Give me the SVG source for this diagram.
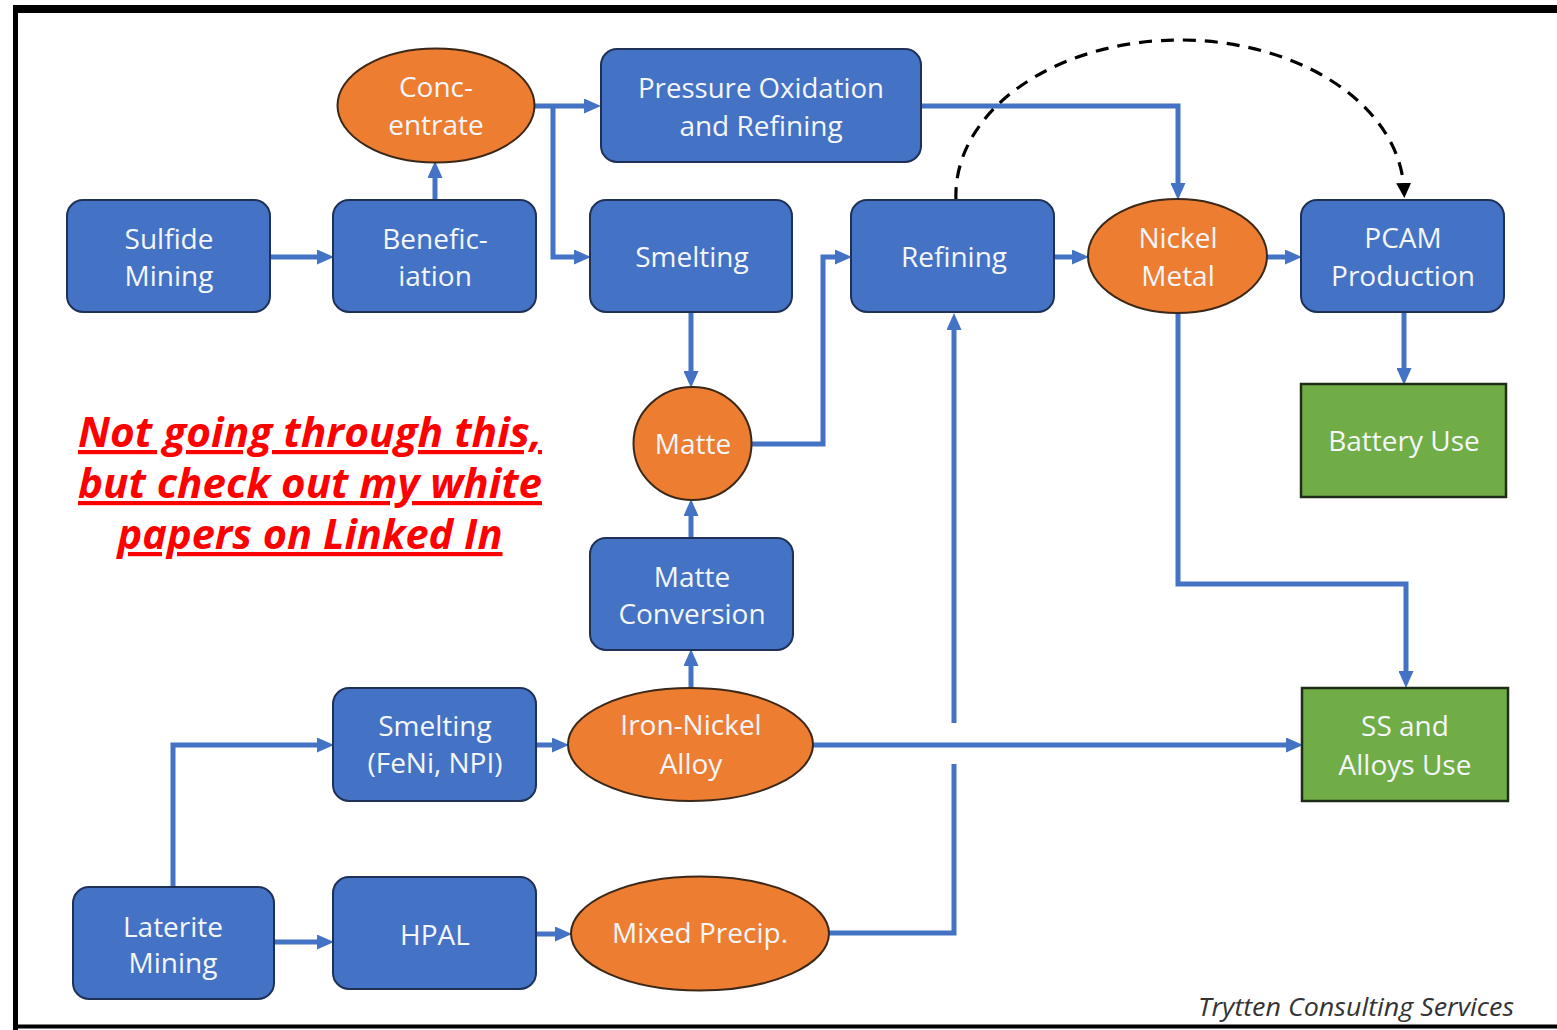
<svg xmlns="http://www.w3.org/2000/svg" width="1557" height="1030" viewBox="0 0 1557 1030">
<defs>
<style>
.box{fill:#4472C4;stroke:#1f3157;stroke-width:2}
.ell{fill:#ED7D31;stroke:#3b2818;stroke-width:2}
.grn{fill:#70AD47;stroke:#1f2c17;stroke-width:2.5}
.lbl{font-family:"Open Sans","Noto Sans","Liberation Sans",sans-serif;font-size:28px;fill:#F4F6FA;text-anchor:middle}
.con{fill:none;stroke:#4472C4;stroke-width:5;marker-end:url(#ah)}
.con2{fill:none;stroke:#4472C4;stroke-width:5}
.dash{fill:none;stroke:#000;stroke-width:3.2;stroke-dasharray:13 9;marker-end:url(#ahk)}
.note{font-family:"Open Sans","Noto Sans","Liberation Sans",sans-serif;font-size:42px;font-weight:bold;font-style:italic;fill:#FF0000;text-anchor:middle;text-decoration:underline}
.foot{font-family:"Open Sans","Noto Sans","Liberation Sans",sans-serif;font-size:26px;font-style:italic;fill:#333;text-anchor:end}
</style>
<marker id="ah" markerUnits="userSpaceOnUse" markerWidth="17" markerHeight="15" refX="8" refY="7.5" orient="auto" viewBox="0 0 17 15">
<path d="M0,0 L17,7.5 L0,15 z" fill="#4472C4"/>
</marker>
<marker id="ahk" markerUnits="userSpaceOnUse" markerWidth="15" markerHeight="15" refX="7" refY="7.5" orient="auto" viewBox="0 0 15 15">
<path d="M0,0 L15,7.5 L0,15 z" fill="#000"/>
</marker>
</defs>
<rect x="0" y="0" width="1557" height="1030" fill="#fff"/>
<g id="frame" stroke="#000" fill="none">
<line x1="13" y1="9" x2="1557" y2="9" stroke-width="8"/>
<line x1="15.5" y1="5" x2="15.5" y2="1030" stroke-width="5"/>
<line x1="13" y1="1026.5" x2="1557" y2="1026.5" stroke-width="4"/>
</g>
<g id="connectors">
<path class="con" d="M270 257 H325"/>
<path class="con" d="M435 200 V170"/>
<path class="con" d="M534 106 H592"/>
<path class="con" d="M553 106 V257 H582"/>
<path class="con" d="M920 106 H1178 V191"/>
<path class="con" d="M691 312 V379"/>
<path class="con" d="M751 444 H823 V257 H843"/>
<path class="con" d="M1054 257 H1080"/>
<path class="con" d="M1267 257 H1293"/>
<path class="con" d="M1404 312 V376"/>
<path class="con" d="M1178 313 V584 H1406 V679"/>
<path class="dash" d="M956 200 A224 155 0 0 1 1404 190"/>
<path class="con" d="M691 538 V508"/>
<path class="con" d="M691 688 V658"/>
<path class="con" d="M536 745 H560"/>
<path class="con" d="M813 745 H1294"/>
<path class="con" d="M173 886 V745 H325"/>
<path class="con" d="M274 942 H325"/>
<path class="con" d="M536 934 H563"/>
<path class="con" d="M829 933 H954 V764 M954 723 V322"/>
</g>
<g id="sulfide-mining">
<rect class="box" x="67" y="200" width="203" height="112" rx="16"/>
<text class="lbl" x="169" y="249">Sulfide</text>
<text class="lbl" x="169" y="286">Mining</text>
</g>
<g id="beneficiation">
<rect class="box" x="333" y="200" width="203" height="112" rx="16"/>
<text class="lbl" x="435" y="249">Benefic-</text>
<text class="lbl" x="435" y="286">iation</text>
</g>
<g id="concentrate">
<ellipse class="ell" cx="436" cy="105.5" rx="98.5" ry="57"/>
<text class="lbl" x="436" y="97">Conc-</text>
<text class="lbl" x="436" y="135">entrate</text>
</g>
<g id="pressure-oxidation">
<rect class="box" x="601" y="49" width="320" height="113" rx="16"/>
<text class="lbl" x="761" y="98" textLength="246" lengthAdjust="spacingAndGlyphs">Pressure Oxidation</text>
<text class="lbl" x="761" y="136">and Refining</text>
</g>
<g id="smelting">
<rect class="box" x="590" y="200" width="202" height="112" rx="16"/>
<text class="lbl" x="692" y="267">Smelting</text>
</g>
<g id="refining">
<rect class="box" x="851" y="200" width="203" height="112" rx="16"/>
<text class="lbl" x="954" y="267">Refining</text>
</g>
<g id="nickel-metal">
<ellipse class="ell" cx="1177.5" cy="256" rx="89.5" ry="57"/>
<text class="lbl" x="1178" y="248">Nickel</text>
<text class="lbl" x="1178" y="286">Metal</text>
</g>
<g id="pcam-production">
<rect class="box" x="1301" y="200" width="203" height="112" rx="16"/>
<text class="lbl" x="1403" y="248">PCAM</text>
<text class="lbl" x="1403" y="286">Production</text>
</g>
<g id="battery-use">
<rect class="grn" x="1301" y="384" width="205" height="113"/>
<text class="lbl" x="1404" y="451">Battery Use</text>
</g>
<g id="matte">
<ellipse class="ell" cx="692.5" cy="443.5" rx="59" ry="56.5"/>
<text class="lbl" x="693" y="454">Matte</text>
</g>
<g id="matte-conversion">
<rect class="box" x="590" y="538" width="203" height="112" rx="16"/>
<text class="lbl" x="692" y="587">Matte</text>
<text class="lbl" x="692" y="624">Conversion</text>
</g>
<g id="smelting-feni-npi">
<rect class="box" x="333" y="688" width="203" height="113" rx="16"/>
<text class="lbl" x="435" y="736">Smelting</text>
<text class="lbl" x="435" y="773">(FeNi, NPI)</text>
</g>
<g id="iron-nickel-alloy">
<ellipse class="ell" cx="690.5" cy="744.5" rx="122.5" ry="56.5"/>
<text class="lbl" x="691" y="735">Iron-Nickel</text>
<text class="lbl" x="691" y="774">Alloy</text>
</g>
<g id="ss-alloys-use">
<rect class="grn" x="1302" y="688" width="206" height="113"/>
<text class="lbl" x="1405" y="736">SS and</text>
<text class="lbl" x="1405" y="775">Alloys Use</text>
</g>
<g id="laterite-mining">
<rect class="box" x="73" y="887" width="201" height="112" rx="16"/>
<text class="lbl" x="173" y="937">Laterite</text>
<text class="lbl" x="173" y="973">Mining</text>
</g>
<g id="hpal">
<rect class="box" x="333" y="877" width="203" height="112" rx="16"/>
<text class="lbl" x="435" y="945">HPAL</text>
</g>
<g id="mixed-precip">
<ellipse class="ell" cx="700" cy="933.5" rx="129" ry="57"/>
<text class="lbl" x="700" y="943">Mixed Precip.</text>
</g>
<g id="note">
<text class="note" x="310" y="447" textLength="464" lengthAdjust="spacingAndGlyphs">Not going through this,</text>
<text class="note" x="310" y="498" textLength="464" lengthAdjust="spacingAndGlyphs">but check out my white</text>
<text class="note" x="310" y="549" textLength="385" lengthAdjust="spacingAndGlyphs">papers on Linked In</text>
</g>
<text class="foot" x="1514" y="1016" textLength="316" lengthAdjust="spacingAndGlyphs">Trytten Consulting Services</text>
</svg>
